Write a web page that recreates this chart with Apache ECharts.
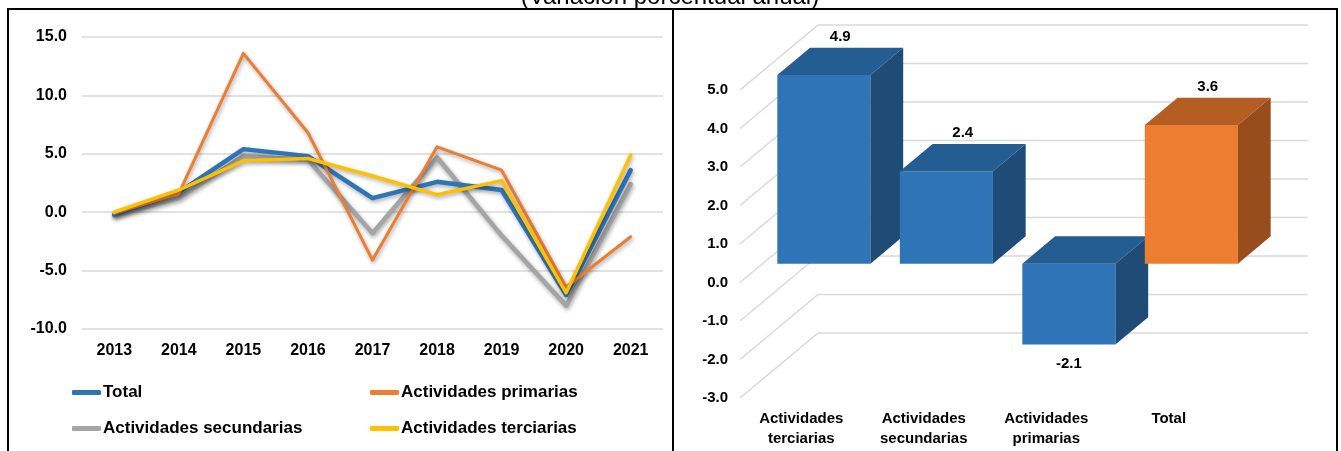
<!DOCTYPE html>
<html>
<head>
<meta charset="utf-8">
<script src="https://cdn.jsdelivr.net/npm/echarts@6/dist/echarts.min.js"></script>
<style>
  html, body { margin: 0; padding: 0; background: #fff; }
  #chart { width: 1341px; height: 451px; }
</style>
</head>
<body>
<div id="chart"></div>
<script>
// --- datos: variación porcentual anual ---
const years = ['2013', '2014', '2015', '2016', '2017', '2018', '2019', '2020', '2021']
const total = [-0.2, 1.7, 5.4, 4.8, 1.2, 2.6, 1.9, -7.1, 3.6]
const primarias = [-0.1, 1.6, 13.6, 6.8, -4.1, 5.6, 3.6, -6.4, -2.1]
const secundarias = [-0.3, 1.2, 4.8, 4.5, -1.8, 4.7, -2.0, -8.0, 2.4]
const terciarias = [0.0, 1.9, 4.4, 4.6, 3.1, 1.5, 2.7, -6.9, 4.9]

const barCats = ['Actividades\nterciarias', 'Actividades\nsecundarias', 'Actividades\nprimarias', 'Total']
const barValues = [4.9, 2.4, -2.1, 3.6]

const FONT = 'Liberation Sans, Arial, sans-serif'
const Y2_MIN = -3
const Y2_MAX = 5

// desplazamiento de la pared del fondo (efecto 3D)
const DX = 78
const DY = -65
const BAR_FRONT = 0.29
const BAR_DEPTH = 0.42
const BAR_WIDTH = 0.76

const barPalette = [
  { front: '#2f74b6', top: '#245d91', side: '#1f4b77' },
  { front: '#2f74b6', top: '#245d91', side: '#1f4b77' },
  { front: '#2f74b6', top: '#245d91', side: '#1f4b77' },
  { front: '#ed7d31', top: '#b55d23', side: '#984e1c' },
]

const wallTicks = []
for (let v = Y2_MIN; v <= Y2_MAX; v++) wallTicks.push([0, v])

const lineShadow = { shadowColor: 'rgba(0,0,0,0.35)', shadowBlur: 4, shadowOffsetX: 1, shadowOffsetY: 2 }

function lineSeries(name, data, color, width) {
  return {
    name,
    type: 'line',
    xAxisIndex: 0,
    yAxisIndex: 0,
    data,
    symbol: 'none',
    smooth: false,
    lineStyle: { color, width, cap: 'round', join: 'round', ...lineShadow },
    itemStyle: { color },
  }
}

function renderWall(params, api) {
  const v = api.value(1)
  const p = api.coord([0, v])
  const bw = api.size([1, 0])[0]
  const x0 = p[0] - bw / 2
  const x1 = x0 + bw * barCats.length
  const style = { stroke: '#d9d9d9', lineWidth: 1.5 }
  return {
    type: 'group',
    children: [
      { type: 'line', shape: { x1: x0, y1: p[1], x2: x0 + DX, y2: p[1] + DY }, style },
      { type: 'line', shape: { x1: x0 + DX, y1: p[1] + DY, x2: x1 + DX, y2: p[1] + DY }, style },
    ],
  }
}

function renderBar(params, api) {
  const i = api.value(0)
  const v = api.value(1)
  const bw = api.size([1, 0])[0]
  const c = api.coord([i, 0])
  const t = api.coord([i, v])
  const w = bw * BAR_WIDTH
  const fx0 = c[0] + BAR_FRONT * DX - w / 2
  const fx1 = fx0 + w
  const yZero = c[1] + BAR_FRONT * DY
  const yVal = t[1] + BAR_FRONT * DY
  const top = Math.min(yZero, yVal)
  const bot = Math.max(yZero, yVal)
  const ddx = BAR_DEPTH * DX
  const ddy = BAR_DEPTH * DY
  const col = barPalette[i]
  const labelY = v >= 0 ? top + ddy - 11 : bot + 19
  const labelX = v >= 0 ? fx0 + w / 2 + ddx / 2 : fx0 + w / 2
  return {
    type: 'group',
    children: [
      { type: 'rect', shape: { x: fx0, y: top, width: w, height: bot - top }, style: { fill: col.front } },
      {
        type: 'polygon',
        shape: { points: [[fx0, top], [fx1, top], [fx1 + ddx, top + ddy], [fx0 + ddx, top + ddy]] },
        style: { fill: col.top },
      },
      {
        type: 'polygon',
        shape: { points: [[fx1, top], [fx1 + ddx, top + ddy], [fx1 + ddx, bot + ddy], [fx1, bot]] },
        style: { fill: col.side },
      },
      {
        type: 'text',
        style: {
          text: v.toFixed(1),
          x: labelX,
          y: labelY,
          align: 'center',
          verticalAlign: 'middle',
          fill: '#000',
          font: 'bold 15px ' + FONT,
        },
      },
    ],
  }
}

const legendText = { fontSize: 17, fontWeight: 'bold', color: '#000', fontFamily: FONT, padding: [0, 0, 0, -3] }

const chart = echarts.init(document.getElementById('chart'))

chart.setOption({
  animation: false,
  backgroundColor: '#fff',
  textStyle: { fontFamily: FONT },
  graphic: [
    {
      type: 'text',
      style: {
        text: '(Variación porcentual anual)',
        x: 670,
        y: 9,
        align: 'center',
        verticalAlign: 'bottom',
        fill: '#000',
        font: '24px ' + FONT,
      },
      z: 0,
    },
    {
      type: 'rect',
      shape: { x: 8, y: 9, width: 665, height: 470 },
      style: { fill: 'none', stroke: '#000', lineWidth: 2 },
      z: 10,
    },
    {
      type: 'rect',
      shape: { x: 673, y: 9, width: 664, height: 470 },
      style: { fill: 'none', stroke: '#000', lineWidth: 2 },
      z: 10,
    },
  ],
  legend: [
    {
      data: ['Total', 'Actividades secundarias'],
      orient: 'vertical',
      left: 67,
      top: 379,
      itemWidth: 29,
      itemHeight: 5,
      itemGap: 19,
      icon: 'roundRect',
      textStyle: legendText,
    },
    {
      data: ['Actividades primarias', 'Actividades terciarias'],
      orient: 'vertical',
      left: 365,
      top: 379,
      itemWidth: 29,
      itemHeight: 5,
      itemGap: 19,
      icon: 'roundRect',
      textStyle: legendText,
    },
  ],
  grid: [
    { left: 82, top: 37, width: 581, height: 292 },
    { left: 740, top: 90, width: 490, height: 308 },
  ],
  xAxis: [
    {
      gridIndex: 0,
      type: 'category',
      data: years,
      boundaryGap: true,
      axisLine: { show: false },
      axisTick: { show: false },
      axisLabel: { color: '#000', fontSize: 16, fontWeight: 'bold', margin: 14 },
    },
    {
      gridIndex: 1,
      type: 'category',
      data: barCats,
      boundaryGap: true,
      axisLine: { show: false },
      axisTick: { show: false },
      axisLabel: { color: '#000', fontSize: 15, fontWeight: 'bold', margin: 11, lineHeight: 20 },
    },
  ],
  yAxis: [
    {
      gridIndex: 0,
      type: 'value',
      min: -10,
      max: 15,
      interval: 5,
      axisLine: { show: false },
      axisTick: { show: false },
      axisLabel: { color: '#000', fontSize: 16, fontWeight: 'bold', margin: 15, formatter: (v) => v.toFixed(1) },
      splitLine: { lineStyle: { color: '#d9d9d9', width: 1.5 } },
    },
    {
      gridIndex: 1,
      type: 'value',
      min: Y2_MIN,
      max: Y2_MAX,
      interval: 1,
      axisLine: { show: false },
      axisTick: { show: false },
      axisLabel: { color: '#000', fontSize: 15, fontWeight: 'bold', margin: 12, formatter: (v) => v.toFixed(1) },
      splitLine: { show: false },
    },
  ],
  series: [
    lineSeries('Actividades secundarias', secundarias, '#a5a5a5', 4.5),
    lineSeries('Total', total, '#2e75b6', 4.5),
    lineSeries('Actividades primarias', primarias, '#ed7d31', 3),
    lineSeries('Actividades terciarias', terciarias, '#ffc000', 3.5),
    {
      type: 'custom',
      xAxisIndex: 1,
      yAxisIndex: 1,
      renderItem: renderWall,
      data: wallTicks,
      silent: true,
      z: 1,
    },
    {
      type: 'custom',
      xAxisIndex: 1,
      yAxisIndex: 1,
      renderItem: renderBar,
      data: barValues.map((v, i) => [i, v]),
      z: 2,
    },
  ],
})
</script>
</body>
</html>
